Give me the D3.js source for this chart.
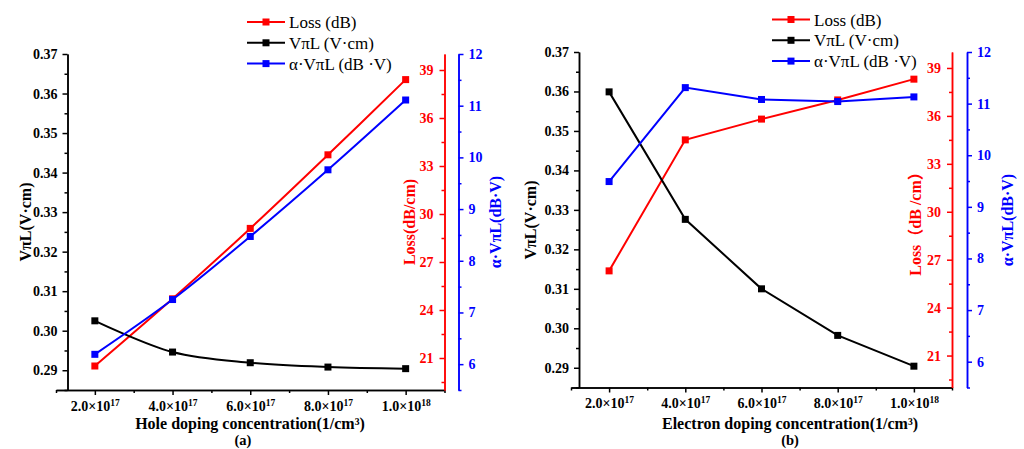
<!DOCTYPE html>
<html>
<head>
<meta charset="utf-8">
<script src="https://cdn.jsdelivr.net/npm/d3@7/dist/d3.min.js"></script>
<style>
  html, body { margin: 0; padding: 0; background: #fff; }
  svg { display: block; }
  text { font-family: "Liberation Serif", "Times New Roman", "Noto Sans CJK SC", serif; }
</style>
</head>
<body>
<div id="wrapper"></div>
<script>
// doping concentrations (1/cm^3)
const concentrations = [2e17, 4e17, 6e17, 8e17, 1e18];
const xTickLabels = [["2.0×10", "17"], ["4.0×10", "17"], ["6.0×10", "17"], ["8.0×10", "17"], ["1.0×10", "18"]];

// (a) hole doping
const holeVpiL = [0.3025, 0.2946, 0.2919, 0.2908, 0.2904];
const holeLoss = [20.5, 24.7, 29.1, 33.7, 38.4];
const holeAlphaVpiL = [6.19, 7.25, 8.47, 9.76, 11.11];

// (b) electron doping
const electronVpiL = [0.3599, 0.3276, 0.31, 0.2982, 0.2904];
const electronLoss = [26.3, 34.5, 35.8, 37.0, 38.3];
const electronAlphaVpiL = [9.49, 11.31, 11.08, 11.04, 11.13];

const vpilTicks = [0.29, 0.30, 0.31, 0.32, 0.33, 0.34, 0.35, 0.36, 0.37];
const lossTicks = [21, 24, 27, 30, 33, 36, 39];
const alphaTicks = [6, 7, 8, 9, 10, 11, 12];

const legendLabels = ["Loss (dB)", "VπL (V·cm)", "α·VπL (dB ·V)"];
const RED = "#ff0000", BLUE = "#0000ff", BLACK = "#000000";
const SERIF = '"Liberation Serif", "Times New Roman", "Noto Sans CJK SC", serif';

const width = 1024, height = 449;

const svg = d3.select("#wrapper").append("svg")
  .attr("width", width).attr("height", height)
  .attr("font-family", SERIF);

const panels = [
  {
    x0: 56, yAxisX: 67.5, x1: 444.5, blueX: 458.5, top: 54, bottom: 390,
    vpil: holeVpiL, loss: holeLoss, alpha: holeAlphaVpiL,
    curve: d3.curveCatmullRom.alpha(0.5),
    xTitle: "Hole doping concentration(1/cm³)", xTitleX: 250,
    tag: "(a)", tagX: 243,
    lossTitle: "Loss(dB/cm)",
    titleY: 222, leftTitleX: 31, lossTitleX: 415, alphaTitleX: 501,
    legendX: 247, legendY: 22
  },
  {
    x0: 571, yAxisX: 579, x1: 952, blueX: 967, top: 52, bottom: 387.5,
    vpil: electronVpiL, loss: electronLoss, alpha: electronAlphaVpiL,
    curve: d3.curveLinear,
    xTitle: "Electron doping concentration(1/cm³)", xTitleX: 790,
    tag: "(b)", tagX: 790,
    lossTitle: "Loss（dB /cm）",
    titleY: 220, leftTitleX: 536, lossTitleX: 921, alphaTitleX: 1013,
    legendX: 772, legendY: 19.5
  }
];

function midpoints(ticks) {
  const step = ticks[1] - ticks[0];
  return [ticks[0] - step / 2].concat(ticks.map(t => t + step / 2));
}

function styleAxis(g, color, size) {
  g.attr("font-family", SERIF);
  g.select(".domain").attr("stroke", color).attr("stroke-width", 1.5);
  g.selectAll(".tick line").attr("stroke", color).attr("stroke-width", 1.5);
  g.selectAll(".tick text")
    .attr("fill", color)
    .attr("font-size", size)
    .attr("font-weight", "bold")
    .style("font-family", SERIF);
}

panels.forEach(p => {
  const xScale = d3.scaleLinear().domain([1e17, 1.1e18]).range([p.x0, p.x1]);
  const yVpil = d3.scaleLinear().domain([0.285, 0.37]).range([p.bottom, p.top]);
  const yLoss = d3.scaleLinear().domain([19, 40]).range([p.bottom, p.top]);
  const yAlpha = d3.scaleLinear().domain([5.5, 12]).range([p.bottom, p.top]);

  const g = svg.append("g");

  // x axis
  const xMinor = concentrations.map(c => c - 1e17).concat([1.1e18]);
  g.append("g").attr("transform", `translate(0,${p.bottom})`)
    .call(d3.axisBottom(xScale).tickValues(xMinor).tickSize(3).tickSizeOuter(0).tickFormat(""))
    .call(a => styleAxis(a, BLACK, 14));
  const xAxis = g.append("g").attr("transform", `translate(0,${p.bottom})`)
    .call(d3.axisBottom(xScale).tickValues(concentrations).tickSize(5).tickSizeOuter(0).tickPadding(4))
    .call(a => styleAxis(a, BLACK, 14));
  xAxis.selectAll(".tick text")
    .attr("dy", "0.85em")
    .each(function (d, i) {
      const self = d3.select(this);
      self.text("");
      self.append("tspan").text(xTickLabels[i][0]);
      self.append("tspan").attr("dy", "-0.55em").attr("font-size", 9.5).text(xTickLabels[i][1]);
    });

  // left y axis (VπL)
  g.append("g").attr("transform", `translate(${p.yAxisX},0)`)
    .call(d3.axisLeft(yVpil).tickValues(midpoints(vpilTicks).filter(v => v < 0.37)).tickSize(3).tickSizeOuter(0).tickFormat(""))
    .call(a => styleAxis(a, BLACK, 14));
  g.append("g").attr("transform", `translate(${p.yAxisX},0)`)
    .call(d3.axisLeft(yVpil).tickValues(vpilTicks).tickSize(5).tickSizeOuter(0).tickPadding(5).tickFormat(d3.format(".2f")))
    .call(a => styleAxis(a, BLACK, 14));

  // red axis (Loss), ticks on the inside
  g.append("g").attr("transform", `translate(${p.x1},0)`)
    .call(d3.axisLeft(yLoss).tickValues(midpoints(lossTicks).filter(v => v < 40)).tickSize(3).tickSizeOuter(0).tickFormat(""))
    .call(a => styleAxis(a, RED, 14));
  g.append("g").attr("transform", `translate(${p.x1},0)`)
    .call(d3.axisLeft(yLoss).tickValues(lossTicks).tickSize(5).tickSizeOuter(0).tickPadding(6).tickFormat(d3.format("d")))
    .call(a => styleAxis(a, RED, 14));

  // blue axis (α·VπL)
  g.append("g").attr("transform", `translate(${p.blueX},0)`)
    .call(d3.axisRight(yAlpha).tickValues(midpoints(alphaTicks).filter(v => v < 12)).tickSize(3).tickSizeOuter(0).tickFormat(""))
    .call(a => styleAxis(a, BLUE, 14));
  g.append("g").attr("transform", `translate(${p.blueX},0)`)
    .call(d3.axisRight(yAlpha).tickValues(alphaTicks).tickSize(5).tickSizeOuter(0).tickPadding(5).tickFormat(d3.format("d")))
    .call(a => styleAxis(a, BLUE, 14));

  // axis titles
  [[p.leftTitleX, "VπL(V·cm)", BLACK], [p.lossTitleX, p.lossTitle, RED], [p.alphaTitleX, "α·VπL(dB·V)", BLUE]]
    .forEach(([x, txt, col]) => {
      g.append("text")
        .attr("transform", `translate(${x},${p.titleY}) rotate(-90)`)
        .attr("text-anchor", "middle")
        .attr("font-size", 16).attr("font-weight", "bold")
        .attr("fill", col)
        .text(txt);
    });

  g.append("text").attr("x", p.xTitleX).attr("y", 428.5)
    .attr("text-anchor", "middle").attr("font-size", 16).attr("font-weight", "bold")
    .text(p.xTitle);
  g.append("text").attr("x", p.tagX).attr("y", 445)
    .attr("text-anchor", "middle").attr("font-size", 14.5).attr("font-weight", "bold")
    .text(p.tag);

  // series
  const series = [
    { values: p.loss, y: yLoss, color: RED },
    { values: p.vpil, y: yVpil, color: BLACK },
    { values: p.alpha, y: yAlpha, color: BLUE }
  ];

  series.forEach(s => {
    const pts = concentrations.map((c, i) => [c, s.values[i]]);
    const line = d3.line().x(d => xScale(d[0])).y(d => s.y(d[1])).curve(p.curve);
    g.append("path").datum(pts)
      .attr("fill", "none").attr("stroke", s.color).attr("stroke-width", 2)
      .attr("d", line);
    g.selectAll(null).data(pts).enter().append("rect")
      .attr("x", d => xScale(d[0]) - 3.5)
      .attr("y", d => s.y(d[1]) - 3.5)
      .attr("width", 7).attr("height", 7)
      .attr("fill", s.color);
  });

  // legend
  const legend = g.append("g").attr("transform", `translate(${p.legendX},${p.legendY})`);
  series.forEach((s, i) => {
    const row = legend.append("g").attr("transform", `translate(0,${i * 20.8})`);
    row.append("line").attr("x1", 0).attr("x2", 38).attr("y1", 0).attr("y2", 0)
      .attr("stroke", s.color).attr("stroke-width", 2);
    row.append("rect").attr("x", 15.5).attr("y", -3.5).attr("width", 7).attr("height", 7)
      .attr("fill", s.color);
    row.append("text").attr("x", 42).attr("y", 6)
      .attr("font-size", 17).attr("fill", BLACK)
      .text(legendLabels[i]);
  });
});
</script>
</body>
</html>
